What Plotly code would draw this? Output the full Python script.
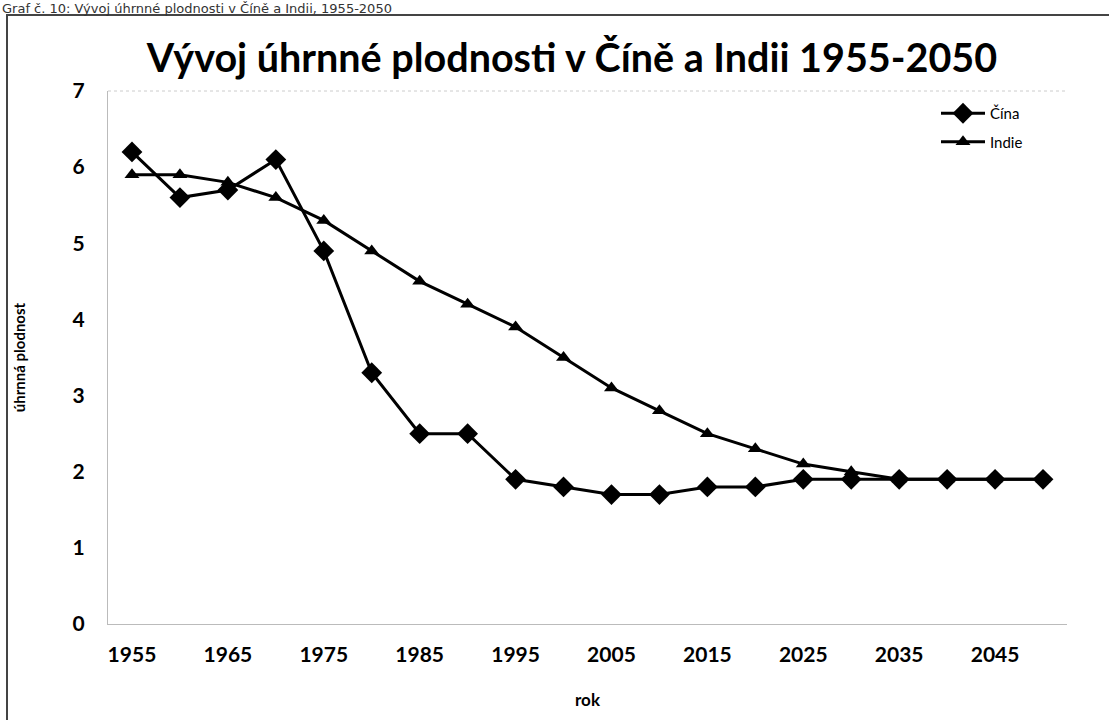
import plotly.graph_objects as go

years = [str(y) for y in range(1955, 2051, 5)]
tick_labels = [str(y) for y in range(1955, 2050, 10)]
cina = [6.2, 5.6, 5.7, 6.1, 4.9, 3.3, 2.5, 2.5, 1.9, 1.8, 1.7, 1.7, 1.8, 1.8, 1.9, 1.9, 1.9, 1.9, 1.9, 1.9]
indie = [5.9, 5.9, 5.8, 5.6, 5.3, 4.9, 4.5, 4.2, 3.9, 3.5, 3.1, 2.8, 2.5, 2.3, 2.1, 2.0, 1.9, 1.9, 1.9, 1.9]

W, H = 1109, 720
L, R, T, B = 108, 42, 91, 96
pw, ph = W - L - R, H - T - B
def px(x):
    return (x - L) / pw
def py(y):
    return (H - B - y) / ph

fig = go.Figure()
fig.add_trace(go.Scatter(x=years, y=cina, name="Čína", mode="lines+markers", legendgroup="c",
                         line=dict(color="black", width=3),
                         marker=dict(symbol="diamond", size=16, color="black")))
fig.add_trace(go.Scatter(x=years, y=indie, name="Indie", mode="lines+markers", legendgroup="i",
                         line=dict(color="black", width=3),
                         marker=dict(symbol="triangle-up", size=13, color="black")))

fig.update_layout(
    width=W, height=H,
    margin=dict(l=L, r=R, t=T, b=B, autoexpand=False),
    paper_bgcolor="white", plot_bgcolor="white",
    font=dict(family="Lato", color="black"),
    showlegend=True,
    legend=dict(x=px(936), y=py(97), xanchor="left", yanchor="top",
                font=dict(family="Lato", size=15, color="black"),
                itemwidth=44, bgcolor="rgba(0,0,0,0)", tracegroupgap=6),
    xaxis=dict(type="category", range=[-0.5, 19.5], automargin=False,
               tickmode="array", tickvals=tick_labels, ticktext=tick_labels,
               tickfont=dict(family="Lato", size=21, color="black", weight="bold"),
               showgrid=False, showline=True, linecolor="#bbbbbb", linewidth=1,
               ticks="", ticklabelstandoff=12,
               title=dict(text="<b>rok</b>", font=dict(family="Lato", size=17), standoff=28)),
    yaxis=dict(range=[0, 7], dtick=1, automargin=False,
               tickfont=dict(family="Lato", size=21, color="black", weight="bold"),
               showgrid=False, showline=True, linecolor="#bbbbbb", linewidth=1,
               ticks="", ticklabelstandoff=18, zeroline=False,
               title=dict(text="<b>úhrnná plodnost</b>", font=dict(family="Lato", size=15), standoff=43)),
    title=dict(text="<b>Vývoj úhrnné plodnosti v Číně a Indii 1955-2050</b>",
               x=572 / W, xanchor="center", y=1 - 58 / H, yanchor="middle",
               font=dict(family="Lato", size=39.5, color="black")),
    shapes=[dict(type="rect", xref="paper", yref="paper",
                 x0=px(7), x1=px(1112), y0=py(724), y1=py(15),
                 line=dict(color="#444444", width=2)),
            dict(type="line", xref="paper", yref="paper",
                 x0=0, x1=1, y0=1, y1=1,
                 line=dict(color="#cccccc", width=1, dash="dot"))],
    annotations=[dict(text="Graf č. 10: Vývoj úhrnné plodnosti v Číně a Indii, 1955-2050",
                      xref="paper", yref="paper", x=px(0), y=py(-1), xanchor="left", yanchor="top",
                      showarrow=False, font=dict(family="DejaVu Sans", size=13, color="#333333"))],
)

fig.write_html("out.html", config={"displayModeBar": False},
               post_script="document.body.style.margin='0';")
